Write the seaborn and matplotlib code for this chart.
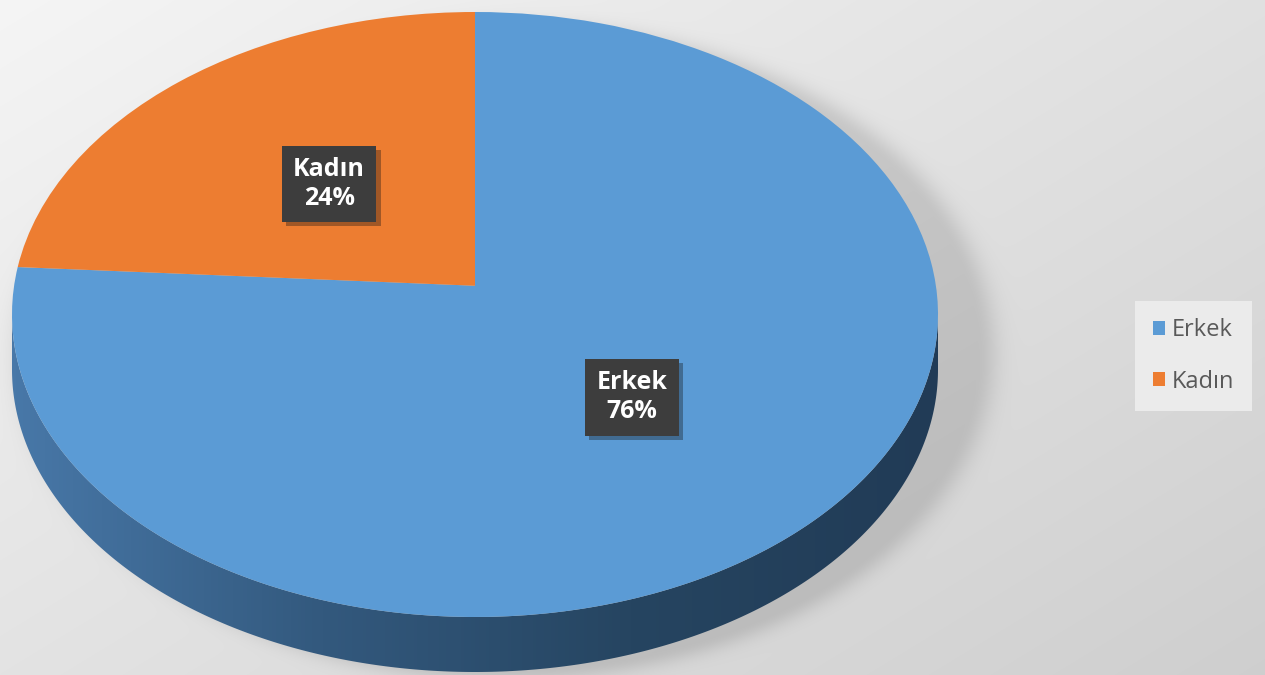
import numpy as np
import matplotlib
matplotlib.use("Agg")
import matplotlib.pyplot as plt
import seaborn as sns
from matplotlib import patheffects
from matplotlib.colors import LinearSegmentedColormap
from matplotlib.patches import Patch, Polygon
from matplotlib.transforms import Transform

# data
categories = ["Erkek", "Kadın"]
shares = [76, 24]
colors = ["#5b9bd5", "#ed7d31"]

sns.set_style("white")
plt.rcParams["font.family"] = ["Open Sans", "DejaVu Sans"]


class Tilt(Transform):
    """Projective map of the unit disc onto itself (centre moves up by t),
    which gives the pie its tilted-in-perspective look."""
    input_dims = output_dims = 2
    is_separable = False
    has_inverse = True

    def __init__(self, t):
        super().__init__()
        self.t = t

    def transform_non_affine(self, values):
        v = np.asarray(values, dtype=float)
        x, y = v[:, 0], v[:, 1]
        den = 1 + self.t * y
        return np.column_stack([x * np.sqrt(1 - self.t ** 2) / den,
                                (y + self.t) / den])

    def inverted(self):
        return Tilt(-self.t)


W, H = 1265, 675
fig = plt.figure(figsize=(W / 100, H / 100), dpi=100)

# grey gradient background with a soft shadow behind the pie
bg = fig.add_axes([0, 0, 1, 1])
bg.axis("off")
yy, xx = np.mgrid[0:H, 0:W]
v = 0.96 - 0.08 * xx / W - 0.07 * yy / H
r = np.sqrt(((xx - 505) / 472) ** 2 + ((yy - 350) / 318) ** 2)
v = v - 0.11 * np.where(r < 1, 1, np.exp(-((r - 1) / 0.045) ** 2))
bg.imshow(np.dstack([v, v, v]), extent=(0, W, H, 0), aspect="auto")
bg.set_xlim(0, W)
bg.set_ylim(H, 0)

# pie axes: top face fills the ellipse, extra room below for the rim
x0, x1, y0, y1 = 12, 938, 12, 617
depth = 55
d = depth / ((y1 - y0) / 2)
ax = fig.add_axes([x0 / W, 1 - (y1 + depth) / H, (x1 - x0) / W, (y1 + depth - y0) / H])

wedges, _ = ax.pie(shares, colors=colors, startangle=90, counterclock=False,
                   radius=1, wedgeprops=dict(linewidth=0))
tilt = Tilt(0.095)
for w in wedges:
    w.set_zorder(3)
    w.set_transform(tilt + ax.transData)

# rim of the 3D pie (front half)
th = np.linspace(np.pi, 2 * np.pi, 300)
pts = np.vstack([np.c_[np.cos(th), np.sin(th)],
                 np.c_[np.cos(th[::-1]), np.sin(th[::-1]) - d]])
rim = Polygon(pts, closed=True, facecolor="none", edgecolor="none")
ax.add_patch(rim)
rim_cmap = LinearSegmentedColormap.from_list(
    "rim", ["#4878a8", "#33597e", "#264561", "#213b56"])
im = ax.imshow(np.linspace(0, 1, 256)[None, :], cmap=rim_cmap,
               extent=(-1, 1, -1 - d, 0), aspect="auto", zorder=2)
im.set_clip_path(rim)

ax.set_aspect("auto")
ax.set_xlim(-1, 1)
ax.set_ylim(-1 - d, 1)
ax.axis("off")

# data labels in dark boxes
label_pos = {"Erkek": (0.339, -0.274), "Kadın": (-0.315, 0.432)}
for cat, share in zip(categories, shares):
    t = ax.text(*label_pos[cat], f"{cat}\n{share}%", ha="center", va="center",
                fontsize=18, fontweight="bold", color="white", linespacing=1.2,
                zorder=5,
                bbox=dict(boxstyle="square,pad=0.45", fc="#3d3d3d", ec="none"))
    t.get_bbox_patch().set_path_effects(
        [patheffects.withSimplePatchShadow(offset=(3, -3), alpha=0.35)])

handles = [Patch(facecolor=c, edgecolor="none") for c in colors]
fig.legend(handles, categories, loc="center left",
           bbox_to_anchor=(1135 / W, 1 - 356 / H), frameon=True, fancybox=False,
           framealpha=1, facecolor="#ebebeb", edgecolor="none", fontsize=17,
           labelcolor="#595959", handlelength=0.5, handleheight=0.55,
           handletextpad=0.3, labelspacing=1.15, borderpad=0.75,
           borderaxespad=0)

fig.savefig("out.png", dpi=100)
